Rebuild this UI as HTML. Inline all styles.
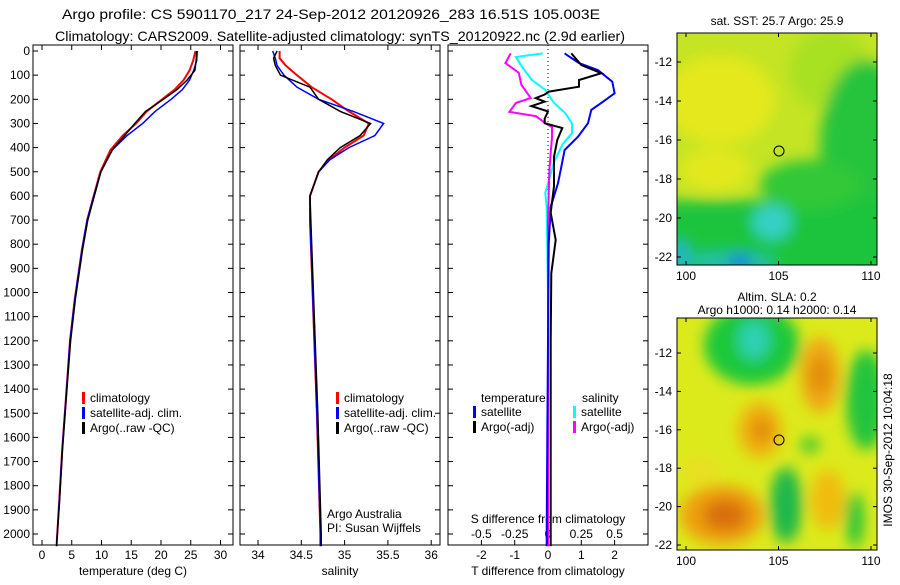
<!DOCTYPE html>
<html><head><meta charset="utf-8">
<style>
body{margin:0;background:#fff;width:900px;height:580px;overflow:hidden;font-family:"Liberation Sans",sans-serif}
svg text{font-family:"Liberation Sans",sans-serif;font-size:12px;fill:#000}
</style></head>
<body>
<svg id="chart" width="900" height="580" viewBox="0 0 900 580">
<defs>
<filter id="bl" x="-20%" y="-20%" width="140%" height="140%"><feGaussianBlur stdDeviation="7"/></filter>
<clipPath id="c1"><rect x="677" y="33" width="200" height="232"/></clipPath>
<clipPath id="c2"><rect x="677" y="318" width="200" height="232"/></clipPath>
</defs>
<text x="62" y="19" textLength="538" lengthAdjust="spacingAndGlyphs" style="font-size:14px">Argo profile: CS 5901170_217 24-Sep-2012 20120926_283 16.51S 105.003E</text>
<text x="55" y="41" textLength="570" lengthAdjust="spacingAndGlyphs" style="font-size:14px">Climatology: CARS2009. Satellite-adjusted climatology: synTS_20120922.nc (2.9d earlier)</text>

<g id="maps">
<g clip-path="url(#c1)">
<rect x="677" y="33" width="200" height="232" fill="#c4e424"/>
<g filter="url(#bl)">
<ellipse cx="720" cy="100" rx="55" ry="45" fill="#e4e81a"/>
<ellipse cx="830" cy="70" rx="40" ry="40" fill="#a8e024"/>
<ellipse cx="865" cy="150" rx="45" ry="90" fill="#26c43c"/>
<rect x="650" y="200" width="260" height="90" fill="#1ec43e"/>
<ellipse cx="810" cy="185" rx="50" ry="25" fill="#30c838"/>
<ellipse cx="772" cy="222" rx="20" ry="18" fill="#34d0c4"/>
<ellipse cx="730" cy="262" rx="45" ry="10" fill="#20c0a8"/>
<ellipse cx="740" cy="262" rx="12" ry="7" fill="#1c78e0"/>
<ellipse cx="680" cy="255" rx="8" ry="14" fill="#28b0d8"/>
<ellipse cx="715" cy="170" rx="35" ry="22" fill="#e2e81a"/>
</g>
</g>
<rect x="677" y="33" width="200" height="232" fill="none" stroke="#000"/>
<circle cx="779" cy="151" r="5" fill="none" stroke="#000"/>
<text x="777" y="25" text-anchor="middle">sat. SST: 25.7 Argo: 25.9</text>

<g clip-path="url(#c2)">
<rect x="677" y="318" width="200" height="232" fill="#dcea1c"/>
<g filter="url(#bl)">
<ellipse cx="752" cy="345" rx="48" ry="40" fill="#1ec83a"/>
<ellipse cx="754" cy="340" rx="16" ry="20" fill="#2ed0b0"/>
<ellipse cx="820" cy="375" rx="20" ry="38" fill="#f0a812"/>
<ellipse cx="820" cy="375" rx="10" ry="18" fill="#e08c0c"/>
<ellipse cx="866" cy="400" rx="20" ry="50" fill="#24c43c"/>
<ellipse cx="760" cy="430" rx="22" ry="28" fill="#f0b010"/>
<ellipse cx="762" cy="430" rx="10" ry="12" fill="#e08a0c"/>
<ellipse cx="722" cy="515" rx="42" ry="30" fill="#eea010"/>
<ellipse cx="725" cy="515" rx="22" ry="16" fill="#d8700a"/>
<ellipse cx="786" cy="505" rx="16" ry="38" fill="#1eb84c"/>
<ellipse cx="828" cy="500" rx="17" ry="30" fill="#f0bc10"/>
<ellipse cx="855" cy="520" rx="9" ry="28" fill="#28c43a"/>
<ellipse cx="700" cy="470" rx="20" ry="15" fill="#e8e020"/>
<ellipse cx="810" cy="445" rx="10" ry="8" fill="#40c830"/>
</g>
</g>
<rect x="677" y="318" width="200" height="232" fill="none" stroke="#000"/>
<circle cx="779" cy="440" r="5" fill="none" stroke="#000"/>
<text x="777" y="301" text-anchor="middle">Altim. SLA: 0.2</text>
<text x="777" y="314" text-anchor="middle">Argo h1000: 0.14 h2000: 0.14</text>
<text transform="translate(892,450) rotate(-90)" text-anchor="middle">IMOS 30-Sep-2012 10:04:18</text>
</g>
</svg>
<script>
// ---- data ----
const depthTicks=[0,100,200,300,400,500,600,700,800,900,1000,1100,1200,1300,1400,1500,1600,1700,1800,1900,2000];
const tempTicks=[0,5,10,15,20,25,30];
const salTicks=[34,34.5,35,35.5,36];
const tdiffTicks=[-2,-1,0,1,2];
const sdiffTicks=[-0.5,-0.25,0,0.25,0.5];
const sdiffLabels=["-0.5","-0.25","0","0.25","0.5"];
const latTicks=[-12,-14,-16,-18,-20,-22];
const lonTicks=[100,105,110];

const tDepth=[0,40,80,120,160,200,250,300,350,410,500,617,700,824,1030,1200,1445,1650,1860,2025,2050];
const tClim=[25.8,25.4,24.8,23.8,22.3,20.2,17.6,15.8,13.6,11.5,9.8,8.5,7.6,6.7,5.5,4.7,4.0,3.4,2.9,2.5,2.45];
const tSat=[26.1,26.0,25.5,24.8,23.6,21.7,19.0,16.9,14.3,11.8,9.9,8.5,7.6,6.7,5.5,4.7,4.0,3.4,2.9,2.5,2.45];
const tArgo=[26.0,25.9,25.7,24.4,22.7,20.4,17.4,15.6,13.9,11.8,9.9,8.6,7.7,6.8,5.6,4.8,4.05,3.45,2.95,2.5,2.45];

const sDepth=[0,30,60,100,150,200,250,300,350,400,450,500,600,700,1000,1500,2000,2050];
const sClim=[34.25,34.25,34.32,34.45,34.62,34.85,35.05,35.28,35.22,35.0,34.82,34.7,34.6,34.6,34.63,34.68,34.72,34.72];
const sSat=[34.17,34.2,34.22,34.3,34.45,34.7,35.1,35.45,35.35,35.05,34.83,34.7,34.6,34.6,34.63,34.68,34.72,34.72];
const sArgo=[34.22,34.18,34.2,34.26,34.6,34.7,34.95,35.3,35.18,34.95,34.8,34.7,34.6,34.61,34.64,34.69,34.73,34.73];

const dTDepth=[10,50,79,127,175,215,244,299,355,410,480,548,645,800,1200,1600,2000,2050];
const dTSat=[0.5,0.93,1.5,1.93,2.0,1.6,1.3,1.2,0.9,0.5,0.4,0.3,0.08,0.02,0.0,-0.02,-0.04,-0.04];
const dTArgoDepth=[10,58,92,120,148,168,180,195,210,228,250,280,299,319,368,438,560,670,782,920,1200,1600,1900,2050];
const dTArgo=[0.7,1.0,1.6,0.93,0.93,0.03,-0.1,-0.37,-0.1,-0.5,0.0,-0.1,-0.1,0.43,0.28,0.18,0.18,0.08,0.23,0.1,0.08,0.08,0.08,0.08];
const dSDepth=[10,25,70,120,161,215,257,300,340,385,460,588,650,1000,2050];
const dSSat=[-0.04,-0.24,-0.19,-0.12,-0.02,0.045,0.13,0.18,0.18,0.11,0.045,-0.02,-0.01,0.0,0.0];
const dSArgoDepth=[10,50,90,140,195,215,252,270,299,315,360,420,500,700,1000,2050];
const dSArgo=[-0.28,-0.32,-0.22,-0.2,-0.13,-0.24,-0.29,-0.09,-0.02,0.03,0.03,0.02,0.01,0.0,0.0,0.0];

// ---- scales ----
const NS='http://www.w3.org/2000/svg';
const svg=document.getElementById('chart');
const yD=d=>51+d*0.2415;
const xT=v=>42+v*5.95;
const xS=v=>258+(v-34)*86.6;
const xDT=v=>548+v*33.3;
const xDS=v=>548+v*133.2;
const PT=45,PB=545;
function mk(tag,attrs,parent){const e=document.createElementNS(NS,tag);for(const k in attrs)e.setAttribute(k,attrs[k]);(parent||svg).appendChild(e);return e;}
function txt(x,y,s,anchor,parent){const t=mk('text',{x:x,y:y,'text-anchor':anchor||'start'},parent);t.textContent=s;return t;}
function line(xs,ds,xf,color,w,name,g){
  const pts=xs.map((v,i)=>xf(v).toFixed(1)+','+yD(ds[i]).toFixed(1)).join(' ');
  const p=mk('polyline',{points:pts,fill:'none',stroke:color,'stroke-width':w},g);
  
  
}
function panel(x0,name){
  const g=mk('g',{});
  
  
  mk('rect',{x:x0,y:PT,width:200,height:PB-PT,fill:'none',stroke:'#000'},g);
  return g;
}
function xticks(g,ticks,xf,labels,ly,top){
  ticks.forEach((v,i)=>{const x=xf(v);
    mk('line',{x1:x,x2:x,y1:PB,y2:PB-5,stroke:'#000'},g);
    if(top) mk('line',{x1:x,x2:x,y1:PT,y2:PT+5,stroke:'#000'},g);
    const t=txt(x,ly,labels?labels[i]:String(v),'middle',g);
    
    
  });
}
function yticks(g,x0,label){
  depthTicks.forEach(d=>{const y=yD(d);
    mk('line',{x1:x0,x2:x0+5,y1:y,y2:y,stroke:'#000'},g);
    mk('line',{x1:x0+200,x2:x0+195,y1:y,y2:y,stroke:'#000'},g);
    if(label){const t=txt(x0-3,y+4,String(d),'end',g);
      
      }
  });
}
function legend(g,x,y,items){
  items.forEach((it,i)=>{
    mk('rect',{x:x,y:y+i*15-10,width:3,height:12,fill:it[1]},g);
    const t=txt(x+8,y+i*15,it[0],'start',g);
    
    
  });
}
// panel 1
const g1=panel(33,'temperature-panel');
yticks(g1,33,true);
xticks(g1,tempTicks,xT,null,559,true);
const a1=txt(133,575,'temperature (deg C)','middle',g1);

line(tClim,tDepth,xT,'#f00',2,'temperature-climatology',g1);
line(tSat,tDepth,xT,'#00f',1.5,'temperature-satellite-adj',g1);
line(tArgo,tDepth,xT,'#000',1.5,'temperature-argo',g1);
legend(g1,82,402,[['climatology','#f00'],['satellite-adj. clim.','#00f'],['Argo(..raw -QC)','#000']]);
// panel 2
const g2=panel(240,'salinity-panel');
yticks(g2,240,false);
xticks(g2,salTicks,xS,null,559,true);
const a2=txt(340,575,'salinity','middle',g2);

line(sClim,sDepth,xS,'#f00',2,'salinity-climatology',g2);
line(sSat,sDepth,xS,'#00f',1.5,'salinity-satellite-adj',g2);
line(sArgo,sDepth,xS,'#000',1.5,'salinity-argo',g2);
legend(g2,336,402,[['climatology','#f00'],['satellite-adj. clim.','#00f'],['Argo(..raw -QC)','#000']]);
const c1=txt(327,518,'Argo Australia','start',g2);
const c2=txt(327,532,'PI: Susan Wijffels','start',g2);
// panel 3
const g3=panel(448,'difference-panel');
yticks(g3,448,false);
xticks(g3,tdiffTicks,xDT,null,559,false);
sdiffTicks.forEach((v,i)=>{const t=txt(xDS(v),538,sdiffLabels[i],'middle',g3);
  });
const a3=txt(548,523,'S difference from climatology','middle',g3);

const a4=txt(548,575,'T difference from climatology','middle',g3);

mk('line',{x1:xDT(0),x2:xDT(0),y1:PT,y2:PB,stroke:'#000','stroke-dasharray':'1,3'},g3);
line(dSSat,dSDepth,xDS,'#0ff',2,'salinity-diff-satellite',g3);
line(dSArgo,dSArgoDepth,xDS,'#f0f',2,'salinity-diff-argo',g3);
line(dTSat,dTDepth,xDT,'#00f',2,'temperature-diff-satellite',g3);
line(dTArgo,dTArgoDepth,xDT,'#000',2,'temperature-diff-argo',g3);
const l1=txt(481,402,'temperature','start',g3);
const l2=txt(582,402,'salinity','start',g3);
legend(g3,473,416,[['satellite','#00f'],['Argo(-adj)','#000']]);
legend(g3,573,416,[['satellite','#0ff'],['Argo(-adj)','#f0f']]);
// map ticks
const mapLon=v=>686+(v-100)*18.5;
[[62,265,19.5],[353,550,19.2]].forEach(([y12,bot,k])=>{
  const top=bot-232;
  latTicks.forEach(v=>{const y=y12-(v+12)*k;
    mk('line',{x1:677,x2:681,y1:y,y2:y,stroke:'#000'});mk('line',{x1:877,x2:873,y1:y,y2:y,stroke:'#000'});
    const t=txt(672,y+4,String(v),'end');});
  lonTicks.forEach(v=>{const x=mapLon(v);
    mk('line',{x1:x,x2:x,y1:bot,y2:bot-4,stroke:'#000'});mk('line',{x1:x,x2:x,y1:top,y2:top+4,stroke:'#000'});
    const t=txt(x,bot+15,String(v),'middle');});
});
</script>
</body></html>
